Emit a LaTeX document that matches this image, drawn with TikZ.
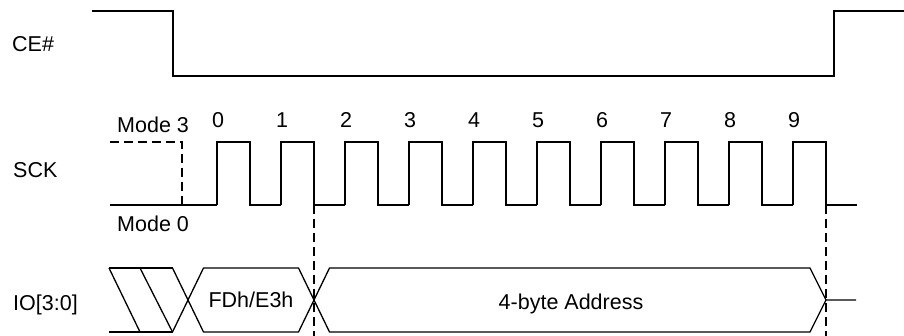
\documentclass[tikz,border=0pt]{standalone}
\usepackage{fontspec}
\setmainfont{Liberation Sans}
\tikzset{
  sig/.style={line width=1.3pt},
  guide/.style={line width=1.3pt, dash pattern=on 9pt off 5pt},
  lbl/.style={font=\fontsize{21.5}{26}\selectfont, inner sep=0pt, anchor=base},
  tag/.style={lbl, anchor=base west}
}
\begin{document}
\begin{tikzpicture}[x=1pt, y=-1pt]
        \useasboundingbox (0,0) rectangle (904,336);

        % Signal names on the left
        \node[tag] (ce) at (12,51.5) {CE\#};
        \node[tag] (sck) at (13,178) {SCK};
        \node[tag] (io) at (13,310) {IO[3:0]};

        % Chip enable goes low for the whole command
        \draw[sig] (92,11) -- (173,11) -- (173,76) -- (834,76) -- (834,11) -- (904,11);

        % Clock: idle level for mode 3 and mode 0
        \draw[guide] (110,142) -- (182,142) -- (182,205);
        \draw[sig] (110,205) -- (217,205);
        \node[tag] (m3) at (117,133) {Mode 3};
        \node[tag] (m0) at (117,232) {Mode 0};

        % Clock pulses 0 to 9 with their numbers
        \foreach \k in {0,...,9}{
          \pgfmathsetmacro\r{217+64*\k}
          \draw[sig] (\r,205) -- (\r,142) -- (\r+33,142) -- (\r+33,205) -- ++(31,0);
          \node[lbl] (n\k) at (\r+1,128) {\k};
        }

        % Dashed guides at the end of each phase
        \draw[guide] (314,205) -- (314,336);
        \draw[guide] (826,205) -- (826,336);

        % Data lines: don't care, command, then address
        \draw[sig] (109,268) -- (172.5,268) (109,332) -- (172.5,332);
        \draw[sig] (109,268) -- (140,332) (140,268) -- (172.5,332);
        \draw[sig] (172.5,268) -- (203.5,332) -- (298.5,332) -- (329.5,268) -- (810,268) -- (826,300) -- (856,300);
        \draw[sig] (172.5,332) -- (203.5,268) -- (298.5,268) -- (329.5,332) -- (810,332) -- (826,300);
        \node[lbl] (cmd) at (251,308) {FDh/E3h};
        \node[lbl] (addr) at (571,309) {4-byte Address};

    \end{tikzpicture}
\end{document}
